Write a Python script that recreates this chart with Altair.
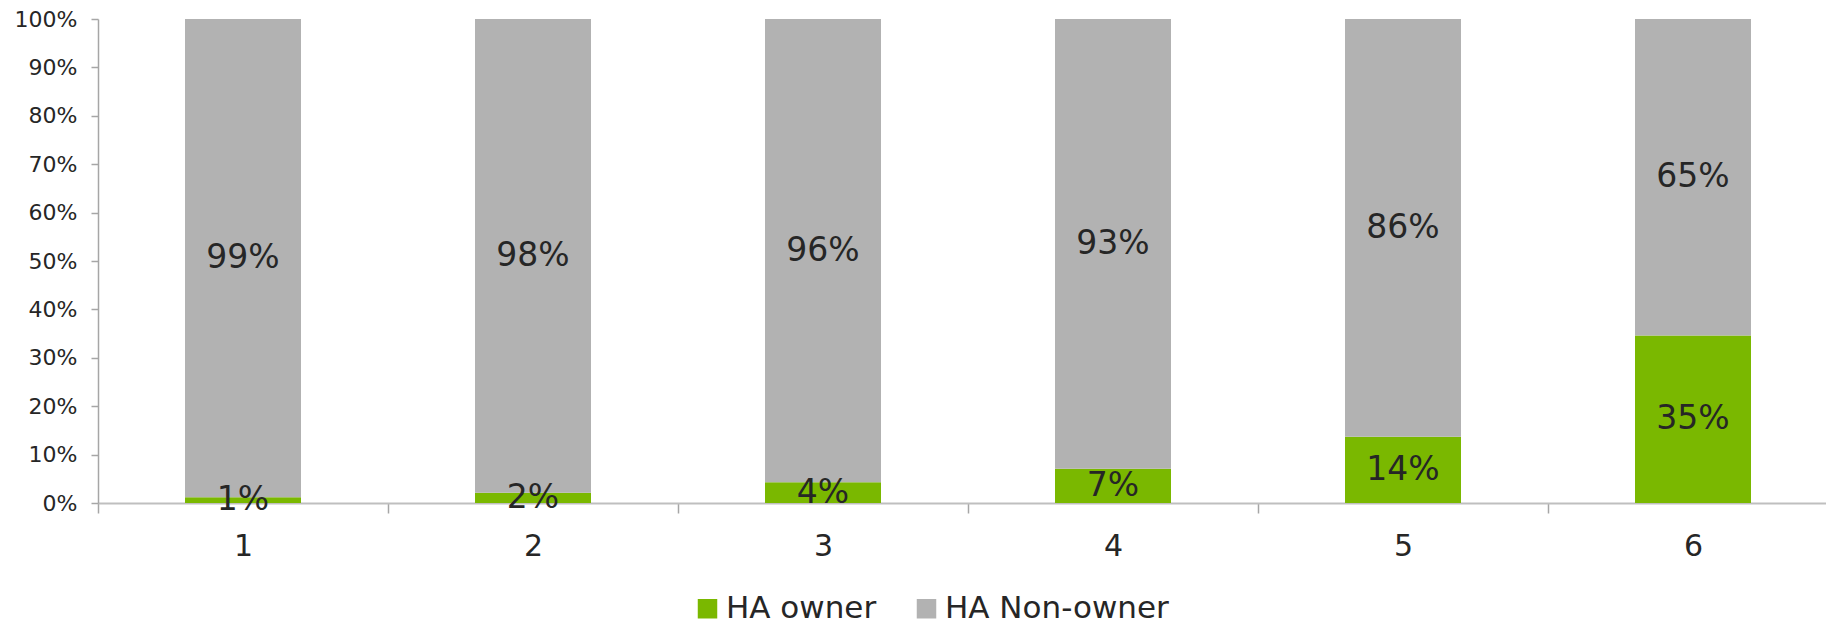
import altair as alt
import pandas as pd

categories = ["1", "2", "3", "4", "5", "6"]
owner = [1.2, 2.1, 4.3, 7.1, 13.7, 34.6]
non_owner = [98.8, 97.9, 95.7, 92.9, 86.3, 65.4]
series = ["HA owner", "HA Non-owner"]
colors = ["#7ab800", "#b2b2b2"]

rows = []
for c, o, n in zip(categories, owner, non_owner):
    rows.append({"cat": c, "series": series[0], "order": 0, "value": o / 100})
    rows.append({"cat": c, "series": series[1], "order": 1, "value": n / 100})
df = pd.DataFrame(rows)

FONT = "DejaVu Sans"
TXT = "#262626"

base = alt.Chart(df).transform_stack(
    stack="value", groupby=["cat"], as_=["y0", "y1"], sort=[alt.SortField("order")]
).transform_calculate(mid="(datum.y0 + datum.y1) / 2")

x_axis = alt.Axis(
    tickBand="extent",
    labelAngle=0,
    labelFont=FONT,
    labelFontSize=30,
    labelColor=TXT,
    labelPadding=18,
    tickSize=10,
    tickColor="#a6a6a6",
    tickWidth=1.5,
    domainColor="#bfbfbf",
    domainWidth=2,
    grid=False,
)
y_axis = alt.Axis(
    format="%",
    values=[i / 10 for i in range(11)],
    labelFont=FONT,
    labelFontSize=22,
    labelColor=TXT,
    labelPadding=14,
    tickSize=7,
    tickColor="#a6a6a6",
    tickWidth=1.5,
    domainColor="#a6a6a6",
    domainWidth=1.5,
    grid=False,
)
x_scale = alt.Scale(paddingInner=0, paddingOuter=0, range=[0, 1740])
y_scale = alt.Scale(domain=[0, 1], nice=False)

bars = base.mark_bar(width=alt.RelativeBandSize(0.4)).encode(
    x=alt.X("cat:N", sort=categories, title=None, scale=x_scale, axis=x_axis),
    y=alt.Y("y0:Q", title=None, scale=y_scale, axis=y_axis),
    y2="y1:Q",
    color=alt.Color(
        "series:N",
        scale=alt.Scale(domain=series, range=colors),
        legend=alt.Legend(
            title=None,
            orient="none",
            direction="horizontal",
            legendX=594,
            legendY=574,
            symbolType="square",
            symbolSize=380,
            symbolStrokeWidth=0,
            labelFont=FONT,
            labelFontSize=31,
            labelColor=TXT,
            labelOffset=3,
            labelLimit=0,
            columnPadding=34,
        ),
    ),
)

labels = base.mark_text(
    font=FONT, fontSize=33, color=TXT, baseline="middle", align="center"
).encode(
    x=alt.X("cat:N", sort=categories, title=None, scale=x_scale, axis=x_axis),
    y=alt.Y("mid:Q", title=None, scale=y_scale, axis=y_axis),
    text=alt.Text("value:Q", format=".0%"),
)

chart = (
    alt.layer(bars, labels)
    .properties(
        width=1728,
        height=484,
        background="white",
        autosize=alt.AutoSizeParams(type="none"),
        padding={"left": 98, "top": 19, "right": 0, "bottom": 121},
    )
    .configure_view(strokeWidth=0, stroke=None)
    .configure_axis(grid=False)
)

chart.save("out.html", embed_options={"renderer": "svg", "actions": False})
